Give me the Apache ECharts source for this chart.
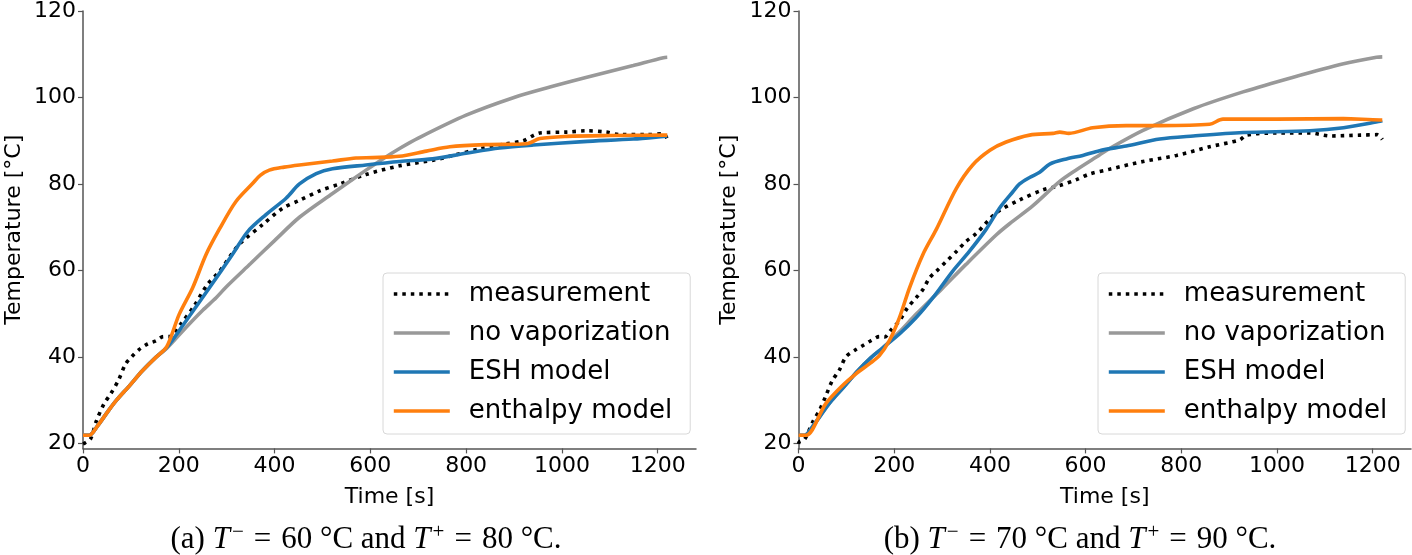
<!DOCTYPE html>
<html><head><meta charset="utf-8">
<script src="https://cdn.jsdelivr.net/npm/echarts@6/dist/echarts.min.js"></script>
<style>html,body{margin:0;padding:0;background:#fff}#c{width:1412px;height:555px}</style>
</head><body><div id="c"></div><script>
// ---------- tick labels ----------
const xTicks = [0, 200, 400, 600, 800, 1000, 1200];
const yTicks = [20, 40, 60, 80, 100, 120];
const seriesNames = ['measurement', 'no vaporization', 'ESH model', 'enthalpy model'];

// ---------- (a) T- = 60 °C, T+ = 80 °C ----------
const measA_t = [0,4,16,28,44,58,74,89,102,117,135,152,168,180,204,232,260,285,326,375,417,452,494,536,591,661,731,773,828,884,919,940,954,1010,1051,1093,1121,1177,1212,1220];
const measA_T = [19.9,20.1,21.1,25.2,29.2,31.5,34.6,38.4,40.1,41.7,43,43.7,44.7,44.7,47.6,51.8,56.8,59.8,66,70.6,74.4,76.2,78.4,80,82.2,84.2,85.5,86.6,88.1,89.3,90,91.2,91.8,92,92.3,92,91.4,91.4,91.6,90.4];
const noVapA_t = [0,13,30,54,70,96,124,152,175,215,250,278,300,350,400,452,521,591,626,661,700,800,900,975,1050,1149,1212,1220];
const noVapA_T = [21.9,21.9,24,27.7,30,33.2,36.8,39.9,42,46.8,50.8,53.7,56.3,61.6,66.9,72.3,77.8,83.2,85.8,88.2,90.6,95.9,100,102.4,104.6,107.4,109.2,109.3];
const eshA_t = [0,13,30,54,70,96,124,152,175,208,264,312,344,382,424,452,487,521,591,661,730,800,870,940,1045,1149,1212,1220];
const eshA_T = [21.9,21.9,24,27.7,30,33.2,36.8,39.9,42.2,47.2,56,63.7,69,72.9,76.7,80,82.4,83.5,84.4,85.2,85.8,87.1,88.3,89,89.8,90.4,91,91.1];
const enthA_t = [0,13,30,54,70,96,124,152,175,201,229,257,285,319,354,370,389,420,452,521,570,605,660,717,766,842,926,954,1010,1100,1212,1220];
const enthA_T = [21.9,21.9,24,27.7,30,33.2,36.8,39.9,42.4,49.9,56,63.7,69.6,75.9,80.1,82,83.2,83.9,84.4,85.3,86,86.1,86.4,87.6,88.6,89.1,89.3,90.5,91,91.2,91.3,91.3];

// ---------- (b) T- = 70 °C, T+ = 90 °C ----------
const measB_t = [0,2,13,30,44,56,71,85,99,117,134,152,169,180,193,211,228,246,260,274,288,309,330,350,372,413,462,510,545,581,608,650,720,790,859,922,936,999,1069,1111,1174,1209,1220];
const measB_T = [19.9,20.4,21,25,27.7,30.7,34.6,36.9,40,41.5,42.6,43.8,44.7,44.6,46.2,48.4,51.4,53.7,55.6,58.3,59.8,62.1,64.4,66.7,68.6,73.3,76.3,78.6,79.6,81,82.3,83.4,85.2,86.6,88.6,90.2,91.3,91.8,91.8,91.1,91.3,91.4,90.3];
const noVapB_t = [0,13,30,54,70,96,124,152,175,211,246,300,350,413,441,490,546,581,629,650,720,825,929,1034,1139,1208,1220];
const noVapB_T = [21.9,21.9,24,27.7,30,33.2,36.8,39.9,42,45.8,49.9,55.8,61.4,68.2,70.8,75,80.6,83.3,86.7,88.2,92.4,97.4,101.3,104.7,107.8,109.3,109.4];
const eshB_t = [0,13,30,54,70,96,124,152,175,211,246,281,322,357,392,420,448,462,483,504,525,560,594,629,685,755,825,929,1069,1139,1216,1220];
const eshB_T = [21.9,21.9,24,27.7,30,33.2,36.8,39.9,42,45.3,49.1,53.7,59.8,64.4,69.5,74.4,78.2,80,81.5,82.7,84.6,85.8,86.6,87.7,88.8,90.4,91.1,91.9,92.3,93,94.5,94.6];
const enthB_t = [0,16,57,92,120,148,169,190,211,232,260,288,330,364,400,434,483,532,546,565,615,685,755,859,887,999,1139,1216,1220];
const enthB_T = [21.9,21.9,29.2,33.4,36.1,38.4,40.3,43.8,49.1,56,63.7,69.5,79,84.4,87.8,89.7,91.3,91.7,92,91.7,93,93.5,93.5,93.8,95,95,95.1,94.8,94.8];

const captionA = '{n|(a) }{i|T}{s|−}{e|=}{n|60 °C and }{i|T}{s|+}{e|=}{n|80 °C.}';
const captionB = '{n|(b) }{i|T}{s|−}{e|=}{n|70 °C and }{i|T}{s|+}{e|=}{n|90 °C.}';

// ---------- build ----------
const pairs = (t, v) => t.map((x, i) => [x, v[i]]);
const SANS = 'DejaVu Sans';
const AX = '#555555';
const colors = ['#000000', '#999999', '#1f77b4', '#ff7f0e'];
const fmt = v => String(v);
const LW = 3.6;

function xAxis(g) {
  return {
    gridIndex: g, type: 'value', min: 0, max: 1280,
    name: 'Time [s]', nameLocation: 'middle', nameGap: 38,
    nameTextStyle: { fontFamily: SANS, fontSize: 22, color: '#000' },
    axisLine: { show: true, onZero: false, lineStyle: { color: AX, width: 1.5 } },
    axisTick: { show: true, length: 5, inside: false, customValues: xTicks, lineStyle: { color: AX, width: 1.2 } },
    axisLabel: { show: true, fontFamily: SANS, fontSize: 22, color: '#000', margin: 7, customValues: xTicks, formatter: fmt },
    splitLine: { show: false }
  };
}
function yAxis(g) {
  return {
    gridIndex: g, type: 'value', min: 18.85, max: 120,
    name: 'Temperature [°C]', nameLocation: 'middle', nameGap: 58, nameRotate: 90,
    nameTextStyle: { fontFamily: SANS, fontSize: 22, color: '#000' },
    axisLine: { show: true, onZero: false, lineStyle: { color: AX, width: 1.5 } },
    axisTick: { show: true, length: 5, inside: false, customValues: yTicks, lineStyle: { color: AX, width: 1.2 } },
    axisLabel: { show: true, fontFamily: SANS, fontSize: 22, color: '#000', margin: 7, customValues: yTicks, formatter: fmt },
    splitLine: { show: false }
  };
}
function legend(left) {
  return {
    data: seriesNames, left: left, top: 273, orient: 'vertical',
    itemWidth: 56, itemHeight: 14, itemGap: 9,
    padding: [6, 18, 8, 9],
    backgroundColor: 'rgba(255,255,255,0.85)', borderColor: '#d8d8d8', borderWidth: 1, borderRadius: 4,
    itemStyle: { opacity: 0, borderWidth: 0 },
    lineStyle: { width: LW },
    textStyle: { fontFamily: SANS, fontSize: 26, color: '#000', lineHeight: 30, padding: [0, 0, 0, 14] },
    selectedMode: false
  };
}
function line(name, data, g, idx) {
  const dotted = idx === 0;
  return {
    name: name, type: 'line', xAxisIndex: g, yAxisIndex: g, data: data,
    symbol: 'none', smooth: 0.3, z: 2 + idx,
    color: colors[idx],
    lineStyle: { color: colors[idx], width: LW, type: dotted ? [3.5, 5] : 'solid', cap: 'butt' },
    emphasis: { disabled: true }
  };
}
const SERIF = 'Liberation Serif';
const capRich = {
  n: { fontFamily: SERIF, fontSize: 31, color: '#000', lineHeight: 36 },
  e: { fontFamily: SERIF, fontSize: 31, color: '#000', lineHeight: 36, padding: [0, 10, 0, 10] },
  i: { fontFamily: SERIF, fontStyle: 'italic', fontSize: 31, color: '#000', lineHeight: 36 },
  s: { fontFamily: SERIF, fontSize: 21, color: '#000', verticalAlign: 'top', lineHeight: 36, padding: [0, 0, 14, 2] }
};

const option = {
  animation: false,
  backgroundColor: '#ffffff',
  grid: [
    { left: 83, top: 8.4, width: 613, height: 440, containLabel: false },
    { left: 798.5, top: 8.4, width: 612.5, height: 440, containLabel: false }
  ],
  xAxis: [xAxis(0), xAxis(1)],
  yAxis: [yAxis(0), yAxis(1)],
  legend: [legend(383), legend(1098)],
  series: [
    line(seriesNames[0], pairs(measA_t, measA_T), 0, 0),
    line(seriesNames[1], pairs(noVapA_t, noVapA_T), 0, 1),
    line(seriesNames[2], pairs(eshA_t, eshA_T), 0, 2),
    line(seriesNames[3], pairs(enthA_t, enthA_T), 0, 3),
    line(seriesNames[0], pairs(measB_t, measB_T), 1, 0),
    line(seriesNames[1], pairs(noVapB_t, noVapB_T), 1, 1),
    line(seriesNames[2], pairs(eshB_t, eshB_T), 1, 2),
    line(seriesNames[3], pairs(enthB_t, enthB_T), 1, 3)
  ],
  graphic: [
    { type: 'text', x: 366, y: 540, style: { text: captionA, rich: capRich, align: 'center', verticalAlign: 'middle' } },
    { type: 'text', x: 1080, y: 540, style: { text: captionB, rich: capRich, align: 'center', verticalAlign: 'middle' } }
  ]
};
const chart = echarts.init(document.getElementById('c'), null, { renderer: 'canvas' });
chart.setOption(option);
</script></body></html>
